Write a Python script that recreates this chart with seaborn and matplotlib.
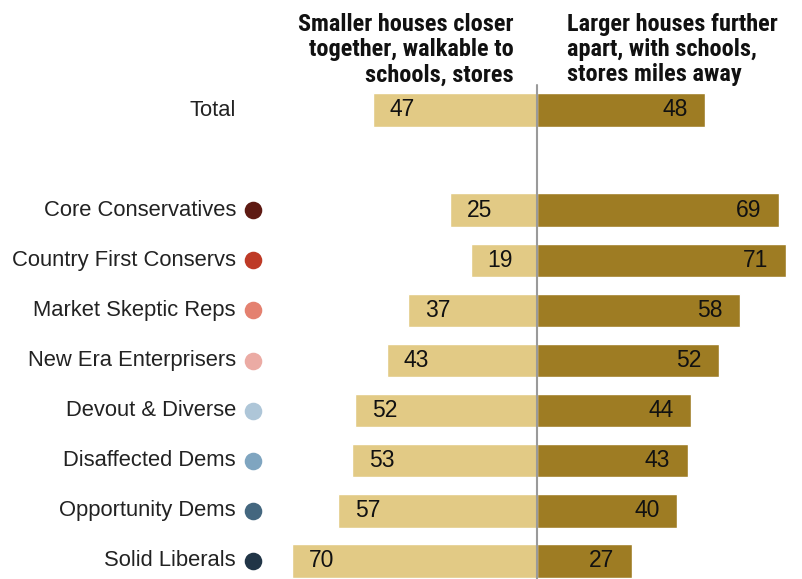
import matplotlib
matplotlib.use("Agg")
import matplotlib.pyplot as plt
import seaborn as sns
import pandas as pd

categories = ["Total", "Core Conservatives", "Country First Conservs", "Market Skeptic Reps",
              "New Era Enterprisers", "Devout & Diverse", "Disaffected Dems",
              "Opportunity Dems", "Solid Liberals"]
smaller_vals = [47, 25, 19, 37, 43, 52, 53, 57, 70]
larger_vals = [48, 69, 71, 58, 52, 44, 43, 40, 27]
dot_colors = [None, "#5E1A13", "#BE3A26", "#E48170", "#EBABA4",
              "#AEC6D8", "#7FA5C0", "#44677F", "#213547"]
header_left = "Smaller houses closer\ntogether, walkable to\nschools, stores"
header_right = "Larger houses further\napart, with schools,\nstores miles away"

LIGHT = "#E2CA85"
DARK = "#9E7C23"

sns.set_theme(style="white")
plt.rcParams['font.family'] = ['Liberation Sans', 'DejaVu Sans']

order = ["Total", " "] + categories[1:]

df = pd.DataFrame({"cat": categories, "smaller": [-v for v in smaller_vals], "larger": larger_vals})

fig = plt.figure(figsize=(8.02, 5.79), dpi=100)
ax = fig.add_axes([0, 0, 1, 1])

sns.barplot(data=df, x="smaller", y="cat", order=order, color=LIGHT, width=0.67,
            saturation=1, ax=ax, orient="h")
sns.barplot(data=df, x="larger", y="cat", order=order, color=DARK, width=0.67,
            saturation=1, ax=ax, orient="h")

px = 3.5  # pixels per unit
xl = -537 / px
xr = (802 - 537) / px
ax.set_xlim(xl, xr)
y_top = -110 / 50.1
y_bot = (579 - 110) / 50.1
ax.set_ylim(y_bot, y_top)
ax.axis("off")

ax.plot([0, 0], [(85 - 110) / 50.1, y_bot], color="#9A9A9A", lw=1.5, zorder=5)

label_x = (236 - 537) / px
dot_x = (253 - 537) / px
for i, cat in enumerate(categories):
    pos = order.index(cat)
    ax.text(label_x, pos, cat, ha="right", va="center", fontsize=15.8, color="#222222")
    if dot_colors[i]:
        ax.scatter([dot_x], [pos], s=160, color=dot_colors[i], zorder=6, linewidths=0)
    ax.text(-smaller_vals[i] + 4.9, pos, str(smaller_vals[i]), ha="left", va="center",
            fontsize=16.5, color="#111111")
    ax.text(larger_vals[i] - 4.9, pos, str(larger_vals[i]), ha="right", va="center",
            fontsize=16.5, color="#111111")

hfam = ['Roboto Condensed', 'DejaVu Sans Condensed', 'Roboto', 'DejaVu Sans']
fig.text(514 / 802, 1 - 13 / 579, header_left, ha="right", va="top", fontsize=17.5,
         fontweight="bold", family=hfam, linespacing=1.12, color="#111111")
fig.text(567 / 802, 1 - 13 / 579, header_right, ha="left", va="top", fontsize=17.5,
         fontweight="bold", family=hfam, linespacing=1.12, color="#111111")

fig.savefig("out.png", dpi=100)
